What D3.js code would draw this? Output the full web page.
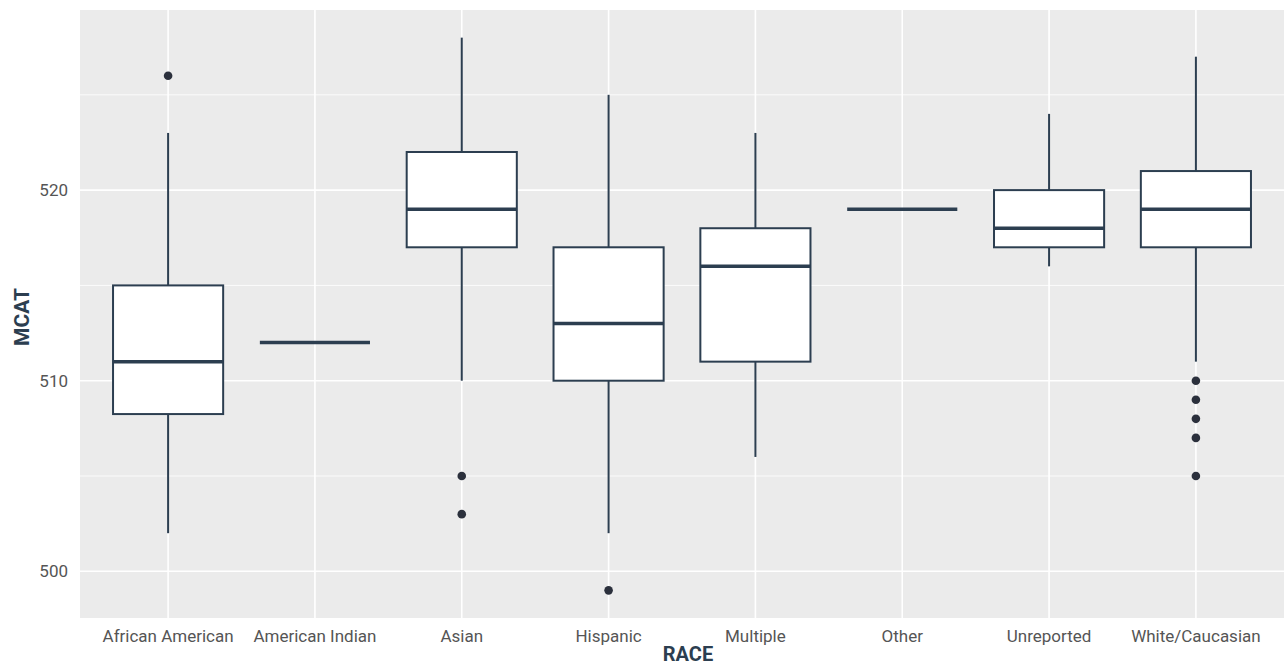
<!DOCTYPE html>
<html><head><meta charset="utf-8">
<script src="https://cdn.jsdelivr.net/npm/d3@7"></script>
<style>body{margin:0;background:#fff}svg{display:block}</style>
</head><body><svg id="c" width="1284" height="666"></svg>
<script>
const categories = ["African American","American Indian","Asian","Hispanic","Multiple","Other","Unreported","White/Caucasian"];
const whiskerLow  = [502, 512, 510, 502, 506, 519, 516, 511];
const q1          = [508.25, 512, 517, 510, 511, 519, 517, 517];
const medians     = [511, 512, 519, 513, 516, 519, 518, 519];
const q3          = [515, 512, 522, 517, 518, 519, 520, 521];
const whiskerHigh = [523, 512, 528, 525, 523, 519, 524, 527];
const outliers = [[526],[],[505,503],[499],[],[],[],[510,509,508,507,505]];
const yTicks = [500, 510, 520];
const yMinor = [505, 515, 525];

const W = 1284, H = 666;
const m = {l:80, r:0, t:10, b:48};
const svg = d3.select("#c");
const iw = W - m.l - m.r, ih = H - m.t - m.b;
const g = svg.append("g").attr("transform",`translate(${m.l},${m.t})`);

const y = d3.scaleLinear().domain([497.55, 529.45]).range([ih, 0]);
// discrete scale with ggplot-style 0.6-unit expansion on each side
const x = d3.scalePoint().domain(categories).range([0, iw]).padding(0.6);
const unit = x.step();
const bw = unit*0.75;

g.append("rect").attr("width",iw).attr("height",ih).attr("fill","#ebebeb");
g.selectAll(".minor").data(yMinor).join("line")
  .attr("x1",0).attr("x2",iw).attr("y1",d=>y(d)).attr("y2",d=>y(d))
  .attr("stroke","#fff").attr("stroke-width",0.8);
g.selectAll(".major").data(yTicks).join("line")
  .attr("x1",0).attr("x2",iw).attr("y1",d=>y(d)).attr("y2",d=>y(d))
  .attr("stroke","#fff").attr("stroke-width",1.6);
g.selectAll(".vmajor").data(categories).join("line")
  .attr("x1",d=>x(d)).attr("x2",d=>x(d)).attr("y1",0).attr("y2",ih)
  .attr("stroke","#fff").attr("stroke-width",1.6);

const col = "#2c3e50";
const data = categories.map((c,i)=>({c, lo:whiskerLow[i], q1:q1[i], med:medians[i], q3:q3[i], hi:whiskerHigh[i], out:outliers[i]}));
const bx = g.selectAll(".box").data(data).join("g");
bx.append("line").attr("x1",d=>x(d.c)).attr("x2",d=>x(d.c))
  .attr("y1",d=>y(d.hi)).attr("y2",d=>y(d.q3)).attr("stroke",col).attr("stroke-width",2);
bx.append("line").attr("x1",d=>x(d.c)).attr("x2",d=>x(d.c))
  .attr("y1",d=>y(d.q1)).attr("y2",d=>y(d.lo)).attr("stroke",col).attr("stroke-width",2);
bx.append("rect").attr("x",d=>x(d.c)-bw/2).attr("width",bw)
  .attr("y",d=>y(d.q3)).attr("height",d=>y(d.q1)-y(d.q3))
  .attr("fill","#fff").attr("stroke",col).attr("stroke-width",2);
bx.append("line").attr("x1",d=>x(d.c)-bw/2).attr("x2",d=>x(d.c)+bw/2)
  .attr("y1",d=>y(d.med)).attr("y2",d=>y(d.med)).attr("stroke",col).attr("stroke-width",3.5);
bx.selectAll("circle").data(d=>d.out.map(v=>({c:d.c,v}))).join("circle")
  .attr("cx",d=>x(d.c)).attr("cy",d=>y(d.v)).attr("r",4.3).attr("fill","#2b303c");

const font = "Roboto, 'Open Sans', sans-serif";
g.selectAll(".yt").data(yTicks).join("text")
  .attr("x",-12).attr("y",d=>y(d)).attr("dy","0.35em").attr("text-anchor","end")
  .attr("font-family",font).attr("font-size",17).attr("fill","#555").text(d=>d);
g.selectAll(".xt").data(categories).join("text")
  .attr("x",d=>x(d)).attr("y",ih+24).attr("text-anchor","middle")
  .attr("font-family",font).attr("font-size",17).attr("fill","#555").text(d=>d);
svg.append("text").attr("x",688).attr("y",661).attr("text-anchor","middle")
  .attr("font-family",font).attr("font-size",20).attr("font-weight","bold").attr("fill",col).text("RACE");
svg.append("text").attr("transform",`translate(29,317) rotate(-90)`).attr("text-anchor","middle")
  .attr("font-family",font).attr("font-size",21).attr("font-weight","bold").attr("fill",col).text("MCAT");
</script></body></html>
